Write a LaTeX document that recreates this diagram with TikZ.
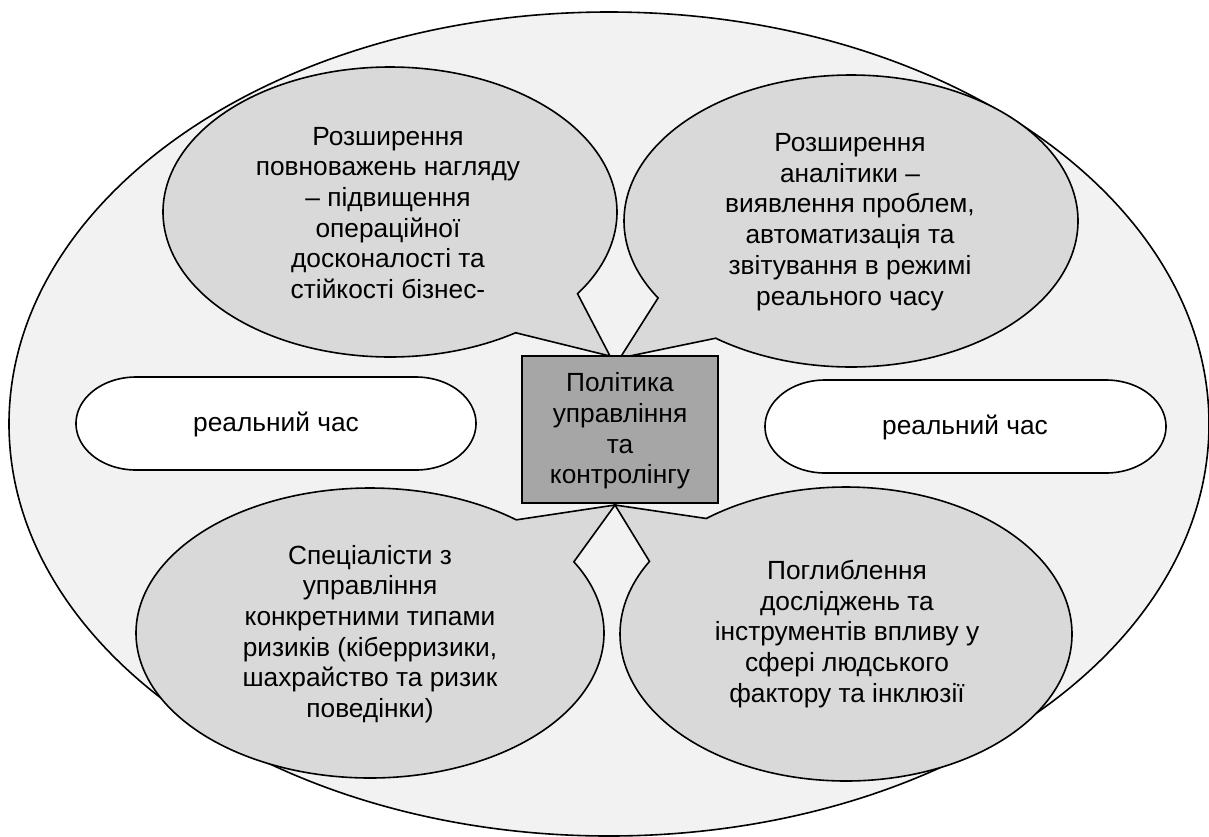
\documentclass[tikz,border=0pt]{standalone}
\usepackage{fontspec}
\setmainfont{Liberation Sans}
\definecolor{outergray}{HTML}{F2F2F2}
\definecolor{calloutgray}{HTML}{D9D9D9}
\definecolor{boxgray}{HTML}{A6A6A6}
\begin{document}
\begin{tikzpicture}[x=1pt,y=-1pt,line width=1.6pt,line join=miter,
  txt/.style={align=center,inner sep=0pt,font={\fontsize{26.3}{30.7}\selectfont}},
  callout/.style={draw,fill=calloutgray},
  pill/.style={draw,fill=white}]
\useasboundingbox (0,0) rectangle (1209,836);
% outer ellipse
\draw[fill=outergray] (609,424) ellipse [x radius=600, y radius=412];
% tips at the central box
\coordinate (tipTL) at (610,356);
\coordinate (tipTR) at (620,358);
\coordinate (tipB) at (615,505);
% callouts
\draw[callout] plot[domain=56.4:394.3,samples=180,smooth] ({390+227*cos(\x)},{212+145*sin(\x)}) -- (tipTL) -- cycle;
\draw[callout] plot[domain=148.2:486.6,samples=180,smooth] ({851+227*cos(\x)},{221+146*sin(\x)}) -- (tipTR) -- cycle;
\draw[callout] plot[domain=-29.4:308.7,samples=180,smooth] ({370+234*cos(\x)},{633+145*sin(\x)}) -- (tipB) -- cycle;
\draw[callout] plot[domain=231.8:569.6,samples=180,smooth] ({846+226*cos(\x)},{634+147*sin(\x)}) -- (tipB) -- cycle;
% pills
\draw[pill] (136,377) -- (416,377)
  -- plot[domain=-90:90,samples=60,smooth] ({416+60*cos(\x)},{423.5+46.5*sin(\x)})
  -- (136,470)
  -- plot[domain=90:270,samples=60,smooth] ({136+60*cos(\x)},{423.5+46.5*sin(\x)}) -- cycle;
\draw[pill] (825,380) -- (1106,380)
  -- plot[domain=-90:90,samples=60,smooth] ({1106+60*cos(\x)},{426.5+46.5*sin(\x)})
  -- (825,473)
  -- plot[domain=90:270,samples=60,smooth] ({825+60*cos(\x)},{426.5+46.5*sin(\x)}) -- cycle;
% texts
\node[txt] (tl) at (388,213) {Розширення\\повноважень нагляду\\– підвищення\\операційної\\досконалості та\\стійкості бізнес-};
\node[txt] (tr) at (850,222) {Розширення\\аналітики –\\виявлення проблем,\\автоматизація та\\звітування в режимі\\реального часу};
\node[txt] (bl) at (370,634) {Спеціалісти з\\управління\\конкретними типами\\ризиків (кіберризики,\\шахрайство та ризик\\поведінки)};
\node[txt] (br) at (847,634) {Поглиблення\\досліджень та\\інструментів впливу у\\сфері людського\\фактору та інклюзії};
\node[txt] (pl) at (276,424) {реальний час};
\node[txt] (pr) at (965,427) {реальний час};
% central box
\node[draw,fill=boxgray,minimum width=196pt,minimum height=147pt,inner sep=0pt] (box) at (620,429.5) {};
\node[txt] (boxtxt) at (620,431) {Політика\\управління\\та\\контролінгу};
\end{tikzpicture}
\end{document}
